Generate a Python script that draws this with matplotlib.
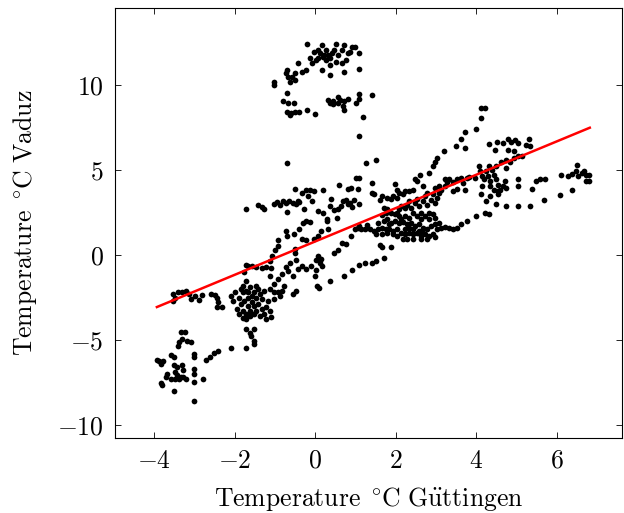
import matplotlib
matplotlib.use("Agg")
import matplotlib.pyplot as plt
import numpy as np

plt.rcParams['mathtext.fontset'] = 'cm'
plt.rcParams['font.family'] = ['cmr10', 'DejaVu Serif']
plt.rcParams['axes.formatter.use_mathtext'] = True

# daily temperatures, (Göttingen, Vaduz) pairs, grouped by region
warm_x = [-0.21, 0.17, 0.51, 0.71, 0.91, 0.99, 1.08, 1.10, 0.86, 0.76, 0.66, 0.36, 0.27,
          0.07, -0.03, 0.07, 0.22, 0.41, 0.56, 0.66, 0.81, 0.36, 0.51, 0.17, 0.36, 0.71,
          0.12, 0.27, 0.32, 0.19, 0.46, 0.02, -0.13, -0.08, -0.23, -0.42, -0.33,
          -0.70, -0.72, -0.49, -0.67, -0.57, -0.62, -0.50, -1.02, -1.02, -0.70, -0.80,
          -0.67, -0.52, -0.70, -0.60, -0.50, -0.40, -0.62, -0.21, 0.00,
          0.32, 0.36, 0.44, 0.56, 0.61, 0.71, 0.81, 0.68, 0.71, 1.01, 1.08, 1.10, 1.40,
          1.20, 1.10, 0.44, 0.56]
warm_y = [12.40, 12.32, 12.40, 12.32, 12.22, 12.22, 11.83, 10.90, 11.93, 11.44, 11.25, 11.15,
          11.44, 11.54, 11.93, 12.03, 11.73, 11.83, 11.73, 12.03, 11.83, 11.54, 11.35, 10.86,
          10.57, 10.76, 11.83, 12.03, 11.73, 11.64, 12.03, 11.44, 11.54, 11.25, 10.86,
          11.25, 10.76, 10.86, 10.70, 10.66, 10.43, 10.47, 10.18, 10.27, 10.18, 9.98,
          9.49, 9.01, 8.91, 8.91, 8.42, 8.32, 8.42, 8.42, 8.23, 8.52, 8.28,
          9.10, 8.95, 9.01, 9.30, 9.10, 9.01, 9.14, 8.75, 8.52, 8.91, 9.14, 9.43, 9.40,
          8.09, 7.00, 8.87, 8.91]

mid_x = [-1.71, -1.41, -1.31, -1.28, -1.02, -0.94, -0.87, -0.80, -0.72, -0.64, -0.54, -0.47,
         -0.40, -0.70, -0.50, -0.33, -0.23, -0.13, -0.03, -0.18, -0.08, -0.28, 0.07, 0.19,
         0.20, 0.30, 0.39, 0.46, 0.56, 0.64, 0.68, 0.76, 0.81, 0.86, 0.91, 0.59, 0.81, 0.89,
         1.01, 1.10, 1.06, 0.96, 1.10, 1.27, 1.50, 1.40, 1.40, 1.45, -0.70, -0.42,
         -0.99, -0.92, -0.72, -0.70, -0.52, -0.40, -0.30, -0.23, -0.13, -0.50, -0.50, -0.33,
         -0.23, -0.03, 0.07, 0.15, 0.32, 0.30, 0.54, 0.36, -1.07, -1.11, -0.92]
mid_y = [2.71, 2.96, 2.83, 2.71, 3.02, 3.10, 2.96, 3.16, 3.06, 3.16, 3.06, 3.02, 3.10, 2.51,
         3.90, 3.65, 3.80, 3.80, 3.74, 3.45, 3.16, 2.71, 2.57, 2.48, 3.80, 2.09, 3.29, 2.61,
         2.71, 2.87, 3.16, 3.25, 3.02, 3.06, 2.83, 4.09, 3.88, 3.94, 4.52, 4.52, 3.88, 3.25,
         3.02, 5.40, 5.59, 4.23, 3.65, 3.55, 5.40, 3.16,
         0.29, 0.88, 1.40, 1.11, 1.21, 1.50, 1.89, 1.99, 1.93, 0.14, 0.37, 0.92, 0.88, 0.92,
         1.11, 1.40, 1.50, 1.99, 2.18, 2.87, -0.06, -0.35, 0.53]

low_x = [-0.10, 0.02, 0.07, 0.12, 0.02, 0.00, 0.04, 0.10, 0.17, 0.15, 0.36, 0.46, 0.56, 0.66,
         0.76, 0.89, 0.71, 0.91, 1.10, 1.25, 1.40, 1.50, 1.70, 1.60, 1.67, 1.89, -0.23, -0.33,
         -0.42, -0.47, -0.62, -0.72, -0.82, -0.92, -1.02, -0.67, -0.54, -0.47, -0.54, -0.82,
         -0.77, -0.87, -1.02, -1.11, -1.11,
         -1.71, -1.66, -1.56, -1.46, -1.33, -1.21, -1.09, -1.76, -1.71]
low_y = [-0.64, -0.31, -0.06, -0.45, -0.90, -1.23, -1.81, -1.97, -0.64, -0.25, -1.52, 0.14,
         0.29, 0.72, 0.62, 1.11, -1.23, -0.88, -0.60, -0.45, -0.45, -0.35, -0.16, 0.57, 0.49,
         0.49, -0.84, -0.64, -0.80, -0.31, -0.45, -0.68, -1.13, -1.42, -1.72, -0.94, -1.23,
         -2.11, -2.30, -2.11, -1.81, -2.40, -2.20, -2.01, -1.23,
         -0.58, -0.64, -0.64, -0.68, -0.74, -0.68, -0.74, -1.03, -1.52]

cold_x = [-2.00, -1.90, -1.85, -1.78, -1.71, -1.61, -1.51, -1.41, -1.36, -1.31, -1.46, -1.56,
          -1.66, -1.76, -1.85, -1.95, -1.90, -1.80, -1.71, -1.61, -1.51, -1.41, -1.31, -1.21,
          -1.11, -1.09, -1.18, -1.02, -0.92, -1.26, -1.66, -1.56, -1.46, -1.78, -1.72, -1.62,
          -2.10, -2.05, -1.51, -1.36, -1.26, -1.21, -1.80, -1.66, -1.46,
          -1.71, -1.61, -1.51, -1.51, -1.51, -1.59, -1.71, -2.10,
          -3.53, -3.48, -3.40, -3.30, -3.21, -3.14, -3.08, -2.99, -2.89, -2.81, -2.59, -2.49,
          -2.44, -2.41, -2.31, -2.44, -3.53]
cold_y = [-2.20, -2.50, -2.01, -1.81, -2.11, -1.91, -2.20, -2.01, -2.30, -2.59, -2.50, -2.40,
          -2.50, -2.69, -2.88, -3.18, -3.47, -3.72, -3.47, -3.27, -2.98, -2.88, -3.18, -3.08,
          -3.27, -3.66, -2.69, -2.59, -2.20, -2.11, -2.98, -2.79, -3.27, -3.27, -3.76, -3.57,
          -2.40, -2.69, -3.47, -3.57, -3.47, -3.76, -2.20, -2.20, -1.81,
          -4.35, -4.60, -4.35, -5.03, -5.22, -4.74, -5.48, -5.48,
          -2.30, -2.50, -2.20, -2.16, -2.11, -2.30, -2.59, -2.40, -2.65, -2.36, -2.30, -2.34,
          -2.50, -2.79, -3.08, -3.08, -2.69]

frost_x = [-3.93, -3.88, -3.78, -3.83, -3.80, -3.83, -3.70, -3.68, -3.58, -3.50, -3.50, -3.43,
           -3.48, -3.48, -3.38, -3.28, -3.21, -3.30, -3.28, -3.50, -3.41, -3.38, -3.30, -3.23,
           -3.32, -3.19, -3.09, -3.01, -3.01, -3.01, -3.01, -3.01, -2.79, -3.01, -2.71, -2.61,
           -2.50, -2.42, -3.43, -3.33, -3.58]
frost_y = [-6.16, -6.24, -6.24, -6.39, -7.66, -7.52, -7.17, -7.02, -5.87, -6.00, -6.49, -6.59,
           -6.88, -7.27, -7.27, -7.17, -7.27, -6.49, -6.78, -8.01, -5.32, -5.13, -4.93, -4.54,
           -4.54, -5.03, -5.09, -5.81, -6.00, -6.69, -6.98, -7.47, -7.27, -8.60, -6.16, -6.00,
           -5.75, -5.67, -7.07, -7.17, -7.27]

dense_x = [0.99, 1.06, 1.15, 1.25, 1.35, 1.45, 1.55, 1.65, 1.75, 1.84, 1.94, 2.04, 2.14, 2.24,
           2.34, 2.44, 2.53, 2.63, 2.73, 2.83, 2.93, 3.03, 3.13, 3.22, 3.32, 3.42, 3.52, 3.62,
           3.77, 4.00, 4.21, 4.31,
           2.19, 2.29, 2.44, 2.63, 2.78, 2.98, 1.50, 1.65, 1.79, 1.94, 2.04,
           1.10, 1.30, 1.55, 1.70, 1.79, 1.89, 1.99, 2.09, 2.19, 2.29, 2.39, 2.49, 2.58, 2.68,
           2.78, 2.88, 2.98, 3.08, 2.44, 2.24, 2.34, 2.58, 2.68, 1.84, 1.65, 1.75,
           2.04, 2.09, 2.14, 2.24, 2.29, 2.34, 2.39, 2.49, 2.53, 2.58, 2.68, 2.73, 2.78, 2.88,
           2.93, 2.98, 3.03, 3.08, 3.13, 2.44, 2.53, 2.63, 2.73, 2.83, 2.93, 2.24, 2.14, 2.34,
           2.63, 2.83, 2.98, 2.09, 1.99, 1.89, 1.79, 1.70, 1.60, 1.66, 1.79, 1.89, 1.94, 2.04,
           2.09, 2.19, 2.24, 2.34, 2.44, 2.04, 1.99, 2.53, 2.61, 2.49, 2.68, 2.78, 2.83, 2.93,
           2.98, 3.03, 3.20, 3.50, 3.62, 3.72, 3.72, 4.00, 4.12, 4.12, 4.22]
dense_y = [1.50, 1.60, 1.50, 1.54, 1.50, 1.40, 1.50, 1.60, 1.50, 1.54, 1.40, 1.50, 1.31, 1.21,
           1.31, 1.21, 1.31, 1.11, 1.21, 1.11, 1.21, 1.50, 1.60, 1.64, 1.60, 1.50, 1.60, 1.79,
           1.99, 2.28, 2.48, 2.38,
           0.96, 0.92, 0.92, 0.96, 0.96, 1.07, 1.21, 1.21, 1.31, 1.21, 1.11,
           1.70, 1.77, 1.89, 1.99, 2.09, 1.89, 1.99, 1.85, 1.93, 1.79, 1.89, 1.70, 1.79, 1.60,
           1.50, 1.70, 1.79, 1.89, 1.50, 1.50, 1.60, 1.40, 1.31, 1.79, 2.32, 2.48,
           2.48, 2.67, 2.87, 2.77, 2.96, 3.16, 2.77, 3.06, 3.26, 2.87, 3.16, 3.45, 2.96, 3.25,
           3.55, 3.06, 3.35, 3.65, 3.84, 2.48, 2.28, 2.48, 2.28, 2.48, 2.38, 2.28, 2.09, 2.18,
           2.09, 2.09, 2.18, 2.28, 2.38, 2.48, 2.67, 2.77, 3.25, 3.45, 3.35, 3.29, 3.45, 3.35,
           3.65, 3.55, 3.74, 3.74, 3.80, 3.84, 4.17, 4.33, 4.72, 4.43, 4.04, 3.65, 4.81, 5.20,
           5.44, 5.69, 6.08, 6.37, 6.80, 7.19, 6.28, 7.39, 8.03, 8.62, 8.62]

east_x = [3.22, 3.27, 3.32, 3.42, 3.52, 3.62, 3.67, 3.77, 3.82, 3.97, 3.42, 3.52, 3.72, 3.22,
          3.08, 2.98,
          4.09, 4.14, 4.19, 4.24, 4.29, 4.34, 4.39, 4.44, 4.49, 4.54, 4.59, 4.66, 4.72, 4.74,
          4.54, 4.44, 4.34, 4.14, 4.12, 4.24, 4.34, 4.54, 4.49, 4.74, 5.04, 5.33, 5.04, 5.04,
          4.49, 4.62, 4.74, 4.84, 4.94, 5.04, 5.14, 4.31, 4.46, 4.52, 4.66, 4.79, 4.86, 4.96,
          5.04, 5.32, 5.34, 5.24, 4.79, 4.94, 4.07, 4.31, 4.74,
          5.39, 5.49, 5.59, 5.71, 5.69, 6.08, 6.11, 6.39, 6.29, 6.37, 6.48, 6.50, 6.52, 6.62,
          6.68, 6.73, 6.80, 6.73, 6.81]
east_y = [4.43, 4.27, 4.43, 4.27, 4.43, 4.52, 4.23, 4.52, 4.58, 4.52, 3.74, 3.88, 3.84, 4.04,
          4.04, 3.94,
          4.91, 4.66, 4.43, 4.91, 4.62, 4.33, 5.01, 4.72, 4.43, 4.13, 3.84, 4.07, 4.33, 3.94,
          3.74, 3.84, 4.04, 4.04, 3.55, 3.16, 3.45, 3.55, 3.02, 2.90, 2.90, 2.90, 4.43, 4.07,
          5.20, 5.44, 5.59, 5.44, 5.69, 5.79, 5.83, 6.53, 6.14, 6.61, 6.57, 6.80, 6.61, 6.72,
          6.57, 6.80, 6.37, 6.47, 6.18, 6.08, 5.24, 5.20, 5.11,
          3.88, 4.33, 4.48, 4.48, 3.20, 3.49, 4.72, 3.80, 4.62, 4.78, 4.91, 5.30, 4.62, 4.81,
          4.91, 4.72, 4.72, 4.33, 4.33]

# least-squares line, end points as drawn
fit_x = [-3.93, 6.82]
fit_y = [-3.06, 7.47]

goettingen = np.concatenate([warm_x, mid_x, low_x, cold_x, frost_x, dense_x, east_x])
vaduz = np.concatenate([warm_y, mid_y, low_y, cold_y, frost_y, dense_y, east_y])

fig = plt.figure(figsize=(6.24, 5.13), dpi=100)
ax = fig.add_axes([0.1843, 0.1462, 0.8125, 0.8382])

ax.scatter(goettingen, vaduz, s=17, color='black', linewidths=0, zorder=2)
ax.plot(fit_x, fit_y, color='red', lw=1.8, zorder=3)

ax.set_xlim(-4.97, 7.62)
ax.set_ylim(-10.75, 14.5)
ax.set_xticks([-4, -2, 0, 2, 4, 6])
ax.set_yticks([-10, -5, 0, 5, 10])
ax.tick_params(direction='in', length=4, width=0.6, top=True, right=True,
               labelsize=18.5, pad=8)
for sp in ax.spines.values():
    sp.set_linewidth(0.8)

ax.set_xlabel(r'$\mathrm{Temperature}\ {}^\circ\!\mathrm{C}\ \mathrm{G\ddot{u}ttingen}$',
              fontsize=18.5, labelpad=9)
ax.set_ylabel(r'$\mathrm{Temperature}\ {}^\circ\!\mathrm{C}\ \mathrm{Vaduz}$',
              fontsize=18.5, labelpad=13)

fig.savefig('out.png', dpi=100)
